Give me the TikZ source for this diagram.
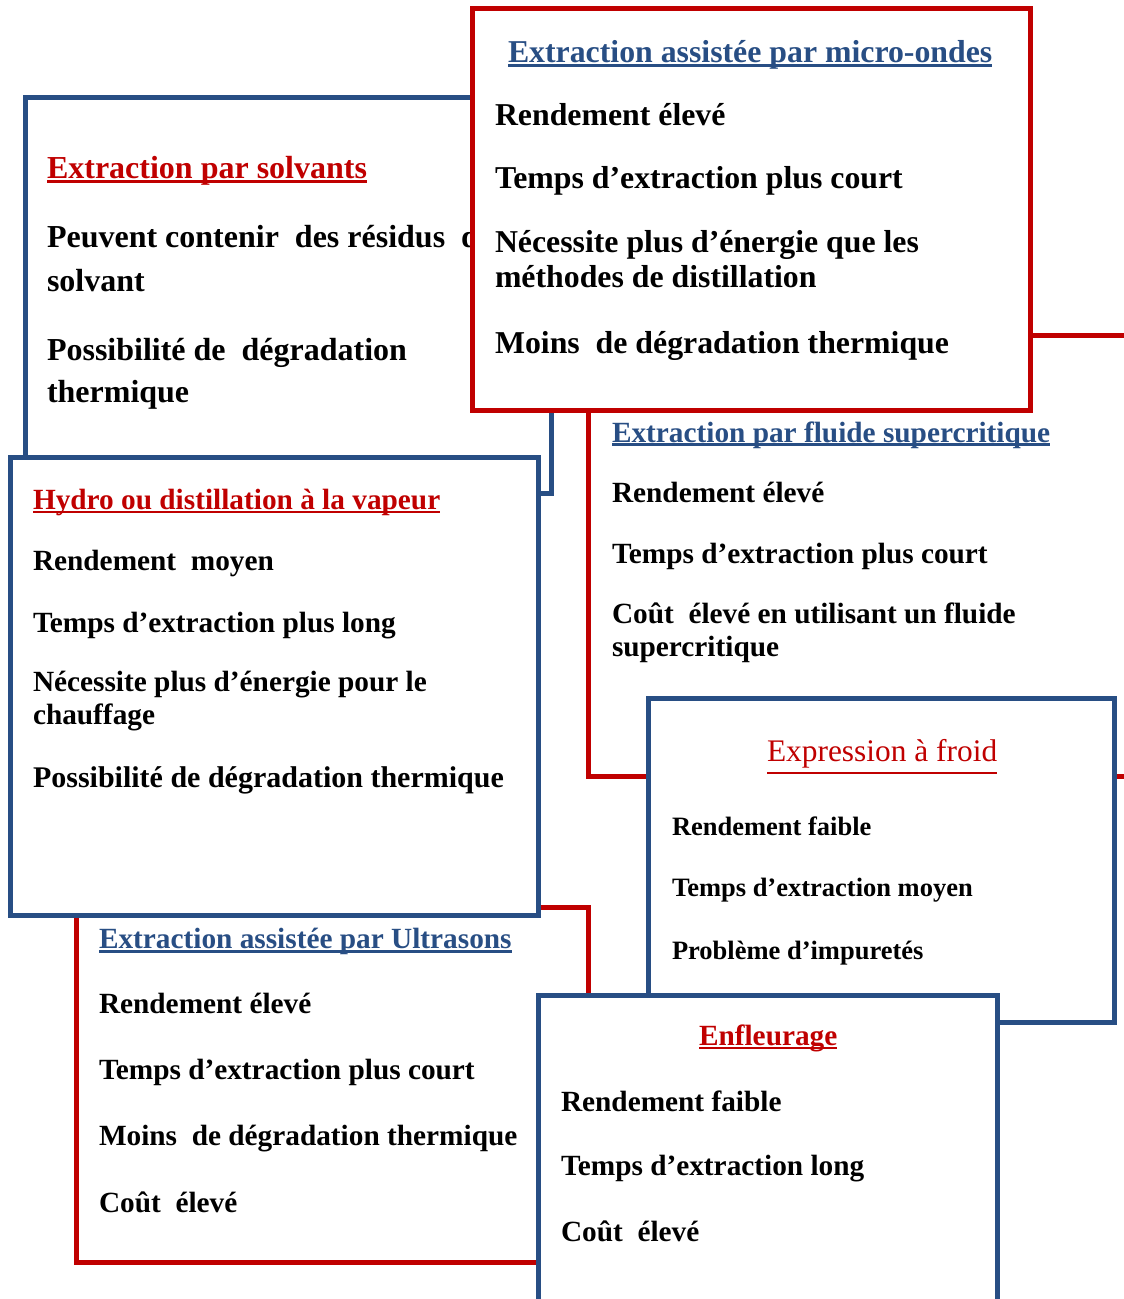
\documentclass[tikz,border=0pt]{standalone}
\usepackage{fontspec}
\setmainfont{Liberation Serif}
\definecolor{myred}{RGB}{192,0,0}
\definecolor{myblue}{RGB}{40,78,132}
\newcommand\myul[3]{\setbox0=\hbox{#1}\rlap{\rule[-#2]{\wd0}{#3}}\box0}
\newcommand\szA{\fontsize{32}{38}\selectfont\bfseries}
\newcommand\szB{\fontsize{31.8}{38}\selectfont\bfseries}
\newcommand\szC{\fontsize{29.3}{35}\selectfont\bfseries}
\newcommand\szD{\fontsize{30}{36}\selectfont\bfseries}
\newcommand\szF{\fontsize{26.5}{32}\selectfont\bfseries}
\newcommand\szFT{\fontsize{31.4}{38}\selectfont}
\begin{document}
\begin{tikzpicture}[x=1pt,y=-1pt,
  bbox/.style={draw=myblue,line width=5pt,fill=white,inner sep=0pt,outer sep=0pt},
  rbox/.style={draw=myred,line width=5pt,fill=white,inner sep=0pt,outer sep=0pt},
  txt/.style={anchor=base west,inner sep=0pt,outer sep=0pt},
  ttl/.style={txt,text=myred},
  ttb/.style={txt,text=myblue}]
\useasboundingbox (0,0) rectangle (1124,1299);
\clip (0,0) rectangle (1124,1299);
\fill[white] (0,0) rectangle (1124,1299);

% Box A : Extraction par solvants
\node[bbox,minimum width=526pt,minimum height=396pt] (boxA) at (288,295) {};
\node[ttl,font=\szA] (a0) at (47,178) {\myul{Extraction par solvants}{0.16em}{0.085em}};
\node[txt,font=\szA] (a1) at (47,247) {Peuvent contenir~~des résidus~~de};
\node[txt,font=\szA] (a2) at (47,291) {solvant};
\node[txt,font=\szA] (a3) at (47,360) {Possibilité de~~dégradation};
\node[txt,font=\szA] (a4) at (47,402) {thermique};

% Box C : fluide supercritique
\node[rbox,minimum width=562pt,minimum height=441pt] (boxC) at (869,555.5) {};
\node[ttb,font=\szC] (c0) at (612,442) {\myul{Extraction par fluide supercritique}{0.13em}{0.085em}};
\node[txt,font=\szC] (c1) at (612,502) {Rendement élevé};
\node[txt,font=\szC] (c2) at (612,563) {Temps d’extraction plus court};
\node[txt,font=\szC] (c3) at (612,623) {Coût~~élevé en utilisant un fluide};
\node[txt,font=\szC] (c4) at (612,656) {supercritique};

% Box E : Ultrasons
\node[rbox,minimum width=512pt,minimum height=355pt] (boxE) at (332,1084.5) {};
\node[ttb,font=\szC] (e0) at (99,948) {\myul{Extraction assistée par Ultrasons}{0.16em}{0.085em}};
\node[txt,font=\szC] (e1) at (99,1013) {Rendement élevé};
\node[txt,font=\szC] (e2) at (99,1079) {Temps d’extraction plus court};
\node[txt,font=\szC] (e3) at (99,1145) {Moins~~de dégradation thermique};
\node[txt,font=\szC] (e4) at (99,1212) {Coût~~élevé};

% Box B : micro-ondes
\node[rbox,minimum width=558pt,minimum height=402pt] (boxB) at (751,209) {};
\node[ttb,font=\szB] (b0) at (508,62) {\myul{Extraction assistée par micro-ondes}{0.16em}{0.085em}};
\node[txt,font=\szB] (b1) at (495,125) {Rendement élevé};
\node[txt,font=\szB] (b2) at (495,188) {Temps d’extraction plus court};
\node[txt,font=\szB] (b3) at (495,252) {Nécessite plus d’énergie que les};
\node[txt,font=\szB] (b4) at (495,287) {méthodes de distillation};
\node[txt,font=\szB] (b5) at (495,353) {Moins~~de dégradation thermique};

% Box D : Hydro distillation
\node[bbox,minimum width=528pt,minimum height=458pt] (boxD) at (274,686) {};
\node[ttl,font=\szC] (d0) at (33,509) {\myul{Hydro ou distillation à la vapeur}{0.14em}{0.085em}};
\node[txt,font=\szC] (d1) at (33,570) {Rendement~~moyen};
\node[txt,font=\szC] (d2) at (33,632) {Temps d’extraction plus long};
\node[txt,font=\szC] (d3) at (33,691) {Nécessite plus d’énergie pour le};
\node[txt,font=\szC] (d4) at (33,724) {chauffage};
\node[txt,font=\szD] (d5) at (33,787) {Possibilité de dégradation thermique};

% Box F : Expression a froid
\node[bbox,minimum width=466pt,minimum height=324pt] (boxF) at (881,860) {};
\node[ttl,font=\szFT] (f0) at (767,761) {\myul{Expression à froid}{0.42em}{0.08em}};
\node[txt,font=\szF] (f1) at (672,835) {Rendement faible};
\node[txt,font=\szF] (f2) at (672,896) {Temps d’extraction moyen};
\node[txt,font=\szF] (f3) at (672,959) {Problème d’impuretés};

% Box G : Enfleurage
\node[bbox,minimum width=459pt,minimum height=335pt] (boxG) at (767.5,1162.5) {};
\node[ttl,font=\szC] (g0) at (699,1045) {\myul{Enfleurage}{0.14em}{0.085em}};
\node[txt,font=\szC] (g1) at (561,1111) {Rendement faible};
\node[txt,font=\szC] (g2) at (561,1175) {Temps d’extraction long};
\node[txt,font=\szC] (g3) at (561,1241) {Coût~~élevé};
\end{tikzpicture}
\end{document}
